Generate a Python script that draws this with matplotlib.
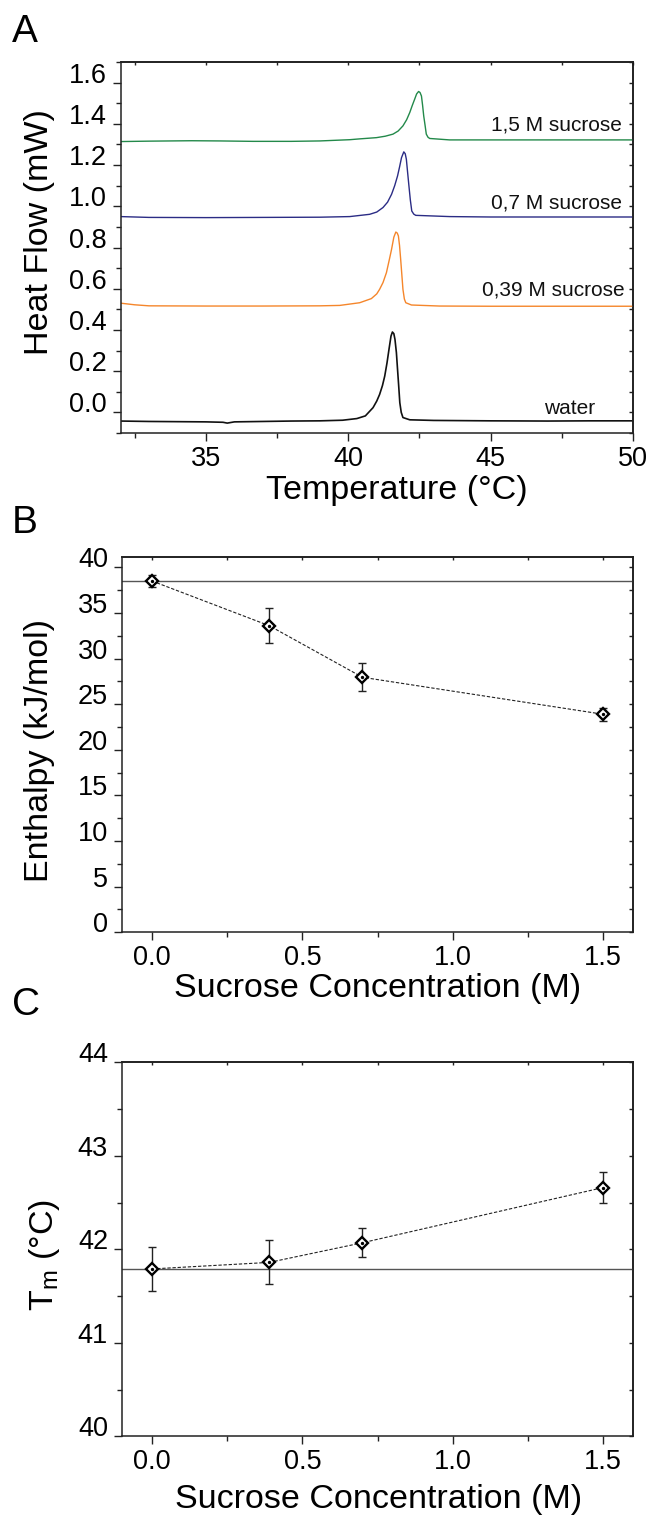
import matplotlib
matplotlib.use('Agg')
import matplotlib.pyplot as plt
from matplotlib.ticker import FixedLocator, FixedFormatter

plt.rcParams['font.family'] = ['Liberation Sans', 'DejaVu Sans']
plt.rcParams['mathtext.default'] = 'regular'

# ---------------- data ----------------
# Panel A: DSC thermograms (temperature in °C, heat flow in mW)
water_T = [32.0, 33.0, 34.0, 35.0, 35.6, 35.75, 36.0, 37.0, 38.0, 39.0, 39.8, 40.3, 40.6, 40.87,
           41.0, 41.1, 41.2, 41.28, 41.36, 41.43, 41.5, 41.55, 41.6, 41.64, 41.69, 41.73, 41.77,
           41.81, 41.86, 41.92, 42.16, 43.0, 45.0, 47.0, 48.5, 50.0]
water_HF = [-0.042, -0.044, -0.045, -0.046, -0.048, -0.052, -0.046, -0.044, -0.042, -0.041, -0.038,
            -0.030, -0.017, 0.023, 0.055, 0.087, 0.130, 0.176, 0.240, 0.306, 0.370, 0.390, 0.382,
            0.354, 0.290, 0.209, 0.130, 0.047, 0.000, -0.025, -0.036, -0.039, -0.041, -0.042,
            -0.041, -0.041]

s039_T = [32.0, 32.5, 33.0, 35.0, 37.0, 39.0, 39.7, 40.4, 40.81, 41.0, 41.1, 41.22, 41.34, 41.44,
          41.52, 41.6, 41.67, 41.72, 41.76, 41.8, 41.84, 41.88, 41.92, 41.97, 42.02, 42.22, 43.2,
          45.0, 47.0, 50.0]
s039_HF = [0.530, 0.522, 0.517, 0.516, 0.516, 0.517, 0.519, 0.532, 0.552, 0.575, 0.597, 0.630,
           0.678, 0.740, 0.791, 0.850, 0.875, 0.870, 0.856, 0.810, 0.743, 0.670, 0.597, 0.550,
           0.532, 0.521, 0.516, 0.515, 0.515, 0.515]

s07_T = [32.0, 33.0, 35.0, 37.0, 39.0, 40.05, 40.75, 41.0, 41.22, 41.38, 41.52, 41.63, 41.73, 41.8,
         41.87, 41.95, 42.0, 42.04, 42.08, 42.13, 42.18, 42.23, 42.3, 42.37, 43.56, 45.0, 47.0, 50.0]
s07_HF = [0.950, 0.946, 0.945, 0.946, 0.947, 0.950, 0.961, 0.972, 0.994, 1.020, 1.058, 1.100,
          1.147, 1.190, 1.236, 1.264, 1.255, 1.228, 1.170, 1.099, 1.030, 0.977, 0.962, 0.956,
          0.950, 0.948, 0.948, 0.948]

s15_T = [32.0, 33.0, 34.5, 35.5, 36.65, 38.0, 39.0, 40.05, 40.4, 40.99, 41.3, 41.57, 41.75, 41.92,
         42.05, 42.16, 42.25, 42.33, 42.4, 42.47, 42.52, 42.57, 42.61, 42.65, 42.7, 42.74, 42.8,
         42.86, 43.56, 45.0, 47.0, 50.0]
s15_HF = [1.314, 1.316, 1.318, 1.317, 1.315, 1.315, 1.317, 1.323, 1.327, 1.333, 1.340, 1.350,
          1.365, 1.390, 1.420, 1.455, 1.490, 1.519, 1.545, 1.557, 1.552, 1.535, 1.490, 1.438,
          1.390, 1.350, 1.335, 1.329, 1.322, 1.322, 1.322, 1.322]

curve_labels = ['water', '0,39 M sucrose', '0,7 M sucrose', '1,5 M sucrose']
curve_colors = ['#111111', '#f5862b', '#2b2c85', '#23894a']

A_xticks = [35, 40, 45, 50]
A_xticklabels = ['35', '40', '45', '50']
A_yticks = [0.0, 0.2, 0.4, 0.6, 0.8, 1.0, 1.2, 1.4, 1.6]
A_yticklabels = ['0.0', '0.2', '0.4', '0.6', '0.8', '1.0', '1.2', '1.4', '1.6']

# Panels B and C
conc = [0.0, 0.39, 0.7, 1.5]
enthalpy = [38.5, 33.6, 27.95, 23.9]
enthalpy_err = [0.7, 1.9, 1.55, 0.7]
tm = [41.79, 41.86, 42.07, 42.66]
tm_err = [0.235, 0.235, 0.155, 0.17]

conc_ticks = [0.0, 0.5, 1.0, 1.5]
conc_ticklabels = ['0.0', '0.5', '1.0', '1.5']
B_yticks = [0, 5, 10, 15, 20, 25, 30, 35, 40]
B_yticklabels = ['0', '5', '10', '15', '20', '25', '30', '35', '40']
C_yticks = [40, 41, 42, 43, 44]
C_yticklabels = ['40', '41', '42', '43', '44']

# ---------------- layout helpers ----------------
W, H = 651, 1519
fig = plt.figure(figsize=(W / 100, H / 100), dpi=100)


def fx(px):
    return px / W


def fy(py):
    return 1 - py / H


def make_axes(l, t, r, b):
    return fig.add_axes([fx(l), fy(b), (r - l) / W, (b - t) / H])


TICK_FS = 19.5
LABEL_FS = 24.5


def style(ax, xt, xtl, xminor, yt, ytl, yminor, xlim, ylim):
    ax.set_xlim(*xlim)
    ax.set_ylim(*ylim)
    ax.xaxis.set_major_locator(FixedLocator(xt))
    ax.xaxis.set_major_formatter(FixedFormatter(xtl))
    ax.xaxis.set_minor_locator(FixedLocator(xminor))
    ax.yaxis.set_major_locator(FixedLocator(yt))
    ax.yaxis.set_major_formatter(FixedFormatter(ytl))
    ax.yaxis.set_minor_locator(FixedLocator(yminor))
    ax.tick_params(which='both', direction='out', width=1.0, labelsize=TICK_FS,
                   top=False, right=False, color='#222222')
    ax.tick_params(which='major', length=6, pad=3)
    ax.tick_params(which='minor', length=3.5)
    ax.tick_params(axis='y', which='major', pad=4)
    for sp in ax.spines.values():
        sp.set_linewidth(1.1)
        sp.set_color('#222222')
    for lab in ax.get_yticklabels():
        lab.set_verticalalignment('baseline')
    # inward ticks on right and top
    allx = sorted(list(xt) + list(xminor))
    ally = sorted(list(yt) + list(yminor))
    sx = ax.secondary_xaxis('top')
    sx.xaxis.set_major_locator(FixedLocator(allx))
    sx.tick_params(direction='in', length=2.5, width=1.0, labeltop=False, color='#222222')
    sx.spines['top'].set_linewidth(1.1)
    sy = ax.secondary_yaxis('right')
    sy.yaxis.set_major_locator(FixedLocator(ally))
    sy.tick_params(direction='in', length=3, width=1.0, labelright=False, color='#222222')
    sy.spines['right'].set_linewidth(1.1)


# ---------------- Panel A ----------------
axA = make_axes(120.5, 62, 633, 433)
curves = [(water_T, water_HF), (s039_T, s039_HF), (s07_T, s07_HF), (s15_T, s15_HF)]
lws = [1.2, 1.0, 1.0, 1.0]
for (T, HF), c, lw in zip(curves, curve_colors, lws):
    axA.plot(T, HF, color=c, lw=lw)
style(axA, A_xticks, A_xticklabels, [32.5, 37.5, 42.5, 47.5],
      A_yticks, A_yticklabels, [-0.1, 0.1, 0.3, 0.5, 0.7, 0.9, 1.1, 1.3, 1.5, 1.7],
      (32, 50), (-0.1, 1.7))
label_pos = [(48.68, -0.01), (49.70, 0.565), (49.62, 0.989), (49.62, 1.366)]
for txt, (x, y) in zip(curve_labels, label_pos):
    axA.text(x, y, txt, ha='right', va='baseline', fontsize=15, color='#111111')

fig.text(fx(396.5), fy(499), 'Temperature (°C)', ha='center', va='baseline', fontsize=LABEL_FS)
fig.text(fx(48), fy(232.5), 'Heat Flow (mW)', rotation=90, rotation_mode='anchor',
         ha='center', va='baseline', fontsize=LABEL_FS)
fig.text(fx(12), fy(42), 'A', ha='left', va='baseline', fontsize=28)


# ---------------- Panels B, C ----------------
def point_panel(ax, y, yerr):
    ax.axhline(y[0], color='#555555', lw=1.0, zorder=1)
    ax.plot(conc, y, color='#222222', lw=0.8, ls=(0, (3, 1.6)), zorder=2)
    ax.errorbar(conc, y, yerr=yerr, fmt='none', ecolor='#222222', elinewidth=1.0,
                capsize=3, capthick=1.0, zorder=3)
    ax.plot(conc, y, ls='none', marker='D', ms=5.8, mfc='white', mec='black', mew=1.7, zorder=4)
    ax.plot(conc, y, ls='none', marker='o', ms=1.4, mfc='black', mec='black', zorder=5)


axB = make_axes(122, 557.3, 633, 932.3)
point_panel(axB, enthalpy, enthalpy_err)
style(axB, conc_ticks, conc_ticklabels, [0.25, 0.75, 1.25],
      B_yticks, B_yticklabels, [2.5, 7.5, 12.5, 17.5, 22.5, 27.5, 32.5, 37.5],
      (-0.1, 1.6), (0, 41.1))
fig.text(fx(377.5), fy(997), 'Sucrose Concentration (M)', ha='center', va='baseline',
         fontsize=LABEL_FS)
fig.text(fx(48), fy(750), 'Enthalpy (kJ/mol)', rotation=90, rotation_mode='anchor',
         ha='center', va='baseline', fontsize=LABEL_FS)
fig.text(fx(12), fy(533), 'B', ha='left', va='baseline', fontsize=28)

axC = make_axes(122, 1062.3, 633, 1436.3)
point_panel(axC, tm, tm_err)
style(axC, conc_ticks, conc_ticklabels, [0.25, 0.75, 1.25],
      C_yticks, C_yticklabels, [40.5, 41.5, 42.5, 43.5],
      (-0.1, 1.6), (40, 44))
fig.text(fx(379), fy(1508), 'Sucrose Concentration (M)', ha='center', va='baseline',
         fontsize=LABEL_FS)
fig.text(fx(53), fy(1255), r'T$_m$ (°C)', rotation=90, rotation_mode='anchor',
         ha='center', va='baseline', fontsize=LABEL_FS)
fig.text(fx(12), fy(1015), 'C', ha='left', va='baseline', fontsize=28)

fig.savefig('out.png', dpi=100)
